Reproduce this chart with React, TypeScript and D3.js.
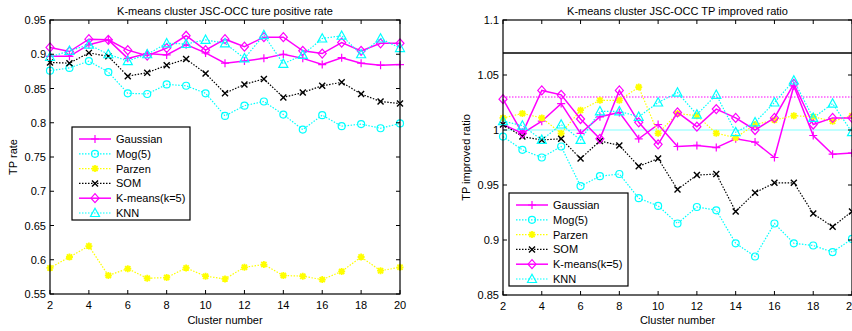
import React from 'react'
import * as d3 from 'd3'

const CLUSTERS = [2, 3, 4, 5, 6, 7, 8, 9, 10, 11, 12, 13, 14, 15, 16, 17, 18, 19, 20]
const X_TICKS = [2, 4, 6, 8, 10, 12, 14, 16, 18, 20]

const TPR_TICKS = [0.55, 0.6, 0.65, 0.7, 0.75, 0.8, 0.85, 0.9, 0.95]
const RATIO_TICKS = [0.85, 0.9, 0.95, 1, 1.05, 1.1]

// TP rate (left)
const GAUSS_L = [0.897, 0.897, 0.914, 0.921, 0.894, 0.901, 0.899, 0.914, 0.902, 0.887, 0.890, 0.894, 0.900, 0.894, 0.885, 0.895, 0.887, 0.884, 0.885]
const MOG_L = [0.876, 0.880, 0.890, 0.874, 0.843, 0.842, 0.856, 0.854, 0.843, 0.810, 0.825, 0.831, 0.812, 0.790, 0.811, 0.795, 0.798, 0.792, 0.799]
const PARZEN_L = [0.588, 0.604, 0.620, 0.577, 0.587, 0.573, 0.574, 0.588, 0.576, 0.572, 0.589, 0.593, 0.577, 0.576, 0.571, 0.583, 0.604, 0.584, 0.589]
const SOM_L = [0.888, 0.887, 0.902, 0.897, 0.868, 0.873, 0.884, 0.893, 0.872, 0.843, 0.856, 0.864, 0.837, 0.844, 0.854, 0.859, 0.842, 0.831, 0.828]
const KMEANS_L = [0.910, 0.904, 0.922, 0.921, 0.906, 0.898, 0.909, 0.927, 0.906, 0.922, 0.911, 0.925, 0.925, 0.905, 0.901, 0.917, 0.905, 0.916, 0.916]
const KNN_L = [0.896, 0.905, 0.914, 0.900, 0.890, 0.900, 0.916, 0.915, 0.921, 0.916, 0.894, 0.928, 0.886, 0.899, 0.923, 0.927, 0.900, 0.923, 0.909]

// TP improved ratio (right)
const GAUSS_R = [1.005, 0.997, 1.008, 1.024, 0.997, 1.012, 1.016, 0.992, 1.005, 0.985, 0.986, 0.984, 0.992, 0.989, 0.975, 1.040, 0.995, 0.978, 0.979]
const MOG_R = [0.994, 0.982, 0.975, 0.985, 0.949, 0.958, 0.960, 0.938, 0.931, 0.915, 0.930, 0.927, 0.897, 0.885, 0.915, 0.897, 0.895, 0.889, 0.901]
const PARZEN_R = [1.011, 1.015, 1.011, 0.997, 1.018, 1.027, 1.027, 1.039, 0.997, 1.015, 1.013, 0.997, 0.993, 1.005, 1.009, 1.013, 1.012, 1.008, 1.013]
const SOM_R = [1.005, 0.994, 0.991, 0.992, 0.974, 0.990, 0.986, 0.967, 0.974, 0.946, 0.959, 0.960, 0.926, 0.943, 0.952, 0.952, 0.924, 0.912, 0.926]
const KMEANS_R = [1.028, 0.997, 1.036, 1.032, 1.010, 0.992, 1.036, 1.007, 0.987, 1.016, 1.003, 1.019, 1.011, 1.000, 1.011, 1.042, 1.005, 1.011, 1.011]
const KNN_R = [1.008, 1.004, 0.991, 1.005, 0.991, 1.017, 1.017, 1.012, 1.025, 1.034, 1.014, 1.032, 0.998, 1.007, 1.025, 1.045, 1.011, 1.024, 0.998]

const REF_LINES = [
  { value: 1.07, color: '#000000', dash: '', width: 1.5 },
  { value: 1.03, color: '#ff00ff', dash: '1.5 1.5', width: 1.2 },
  { value: 1.0, color: '#80ffff', dash: '', width: 1.2 },
]

type Marker = 'plus' | 'circle' | 'star' | 'x' | 'diamond' | 'triangle'
const SERIES: { name: string; color: string; dash: string; marker: Marker }[] = [
  { name: 'Gaussian', color: '#ff00ff', dash: '', marker: 'plus' },
  { name: 'Mog(5)', color: '#00ffff', dash: '1.5 1.5', marker: 'circle' },
  { name: 'Parzen', color: '#ffff00', dash: '1.5 1.5', marker: 'star' },
  { name: 'SOM', color: '#000000', dash: '1.5 1.5', marker: 'x' },
  { name: 'K-means(k=5)', color: '#ff00ff', dash: '', marker: 'diamond' },
  { name: 'KNN', color: '#00ffff', dash: '1.5 1.5', marker: 'triangle' },
]

const FONT = '"Liberation Sans", Arial, sans-serif'

function MarkerShape({ type, x, y, color }: { type: Marker; x: number; y: number; color: string }) {
  const common = { fill: 'none', stroke: color, strokeWidth: 1.2 }
  const t = `translate(${x},${y})`
  switch (type) {
    case 'plus':
      return <path transform={t} d="M-4,0H4M0,-4V4" {...common} />
    case 'circle':
      return <circle cx={x} cy={y} r={3.5} {...common} />
    case 'star':
      return <path transform={t} d="M-3.5,0H3.5M0,-3.5V3.5M-2.6,-2.6L2.6,2.6M-2.6,2.6L2.6,-2.6" {...common} strokeWidth={1.8} />
    case 'x':
      return <path transform={t} d="M-3,-3L3,3M-3,3L3,-3" {...common} strokeWidth={1.4} />
    case 'diamond':
      return <path transform={t} d="M0,-4.5L4,0L0,4.5L-4,0Z" {...common} />
    case 'triangle':
      return <path transform={t} d="M0,-4.8L4.5,3.5L-4.5,3.5Z" {...common} />
  }
}

function Panel(props: {
  left: number; right: number; top: number; bottom: number
  domain: [number, number]; yTicks: number[]; fmt: (v: number) => string
  values: number[][]; title: string; yLabel: string; yLabelX: number
  legend: { x: number; y: number; w: number; h: number }
  refs?: typeof REF_LINES
}) {
  const { left, right, top, bottom, domain, yTicks, fmt, values, title, yLabel, yLabelX, legend, refs } = props
  const x = d3.scaleLinear().domain([2, 20]).range([left, right])
  const y = d3.scaleLinear().domain(domain).range([bottom, top])
  const line = d3.line<number>().x((_, i) => x(CLUSTERS[i])).y(v => y(v))
  const cx = (left + right) / 2
  const tick = 4
  return (
    <g fontFamily={FONT} fontSize={11}>
      <text x={cx} y={15} textAnchor="middle" fill="#000">{title}</text>
      <text transform={`translate(${yLabelX},${(top + bottom) / 2}) rotate(-90)`} textAnchor="middle" fill="#000">{yLabel}</text>
      <text x={cx} y={324} textAnchor="middle" fill="#000">Cluster number</text>

      {refs && refs.map(r => (
        <line key={r.value} x1={left} x2={right} y1={y(r.value)} y2={y(r.value)}
          stroke={r.color} strokeWidth={r.width} strokeDasharray={r.dash} />
      ))}

      {SERIES.map((s, si) => (
        <g key={s.name}>
          <path d={line(values[si]) ?? ''} fill="none" stroke={s.color} strokeWidth={s.dash ? 1.2 : 1.5} strokeDasharray={s.dash} />
          {values[si].map((v, i) => (
            <MarkerShape key={i} type={s.marker} x={x(CLUSTERS[i])} y={y(v)} color={s.color} />
          ))}
        </g>
      ))}

      <rect x={left} y={top} width={right - left} height={bottom - top} fill="none" stroke="#000" strokeWidth={1.2} />
      {X_TICKS.map(t => (
        <g key={t}>
          <line x1={x(t)} x2={x(t)} y1={bottom} y2={bottom - tick} stroke="#000" />
          <line x1={x(t)} x2={x(t)} y1={top} y2={top + tick} stroke="#000" />
          <text x={x(t)} y={bottom + 15} textAnchor="middle" fill="#000">{t}</text>
        </g>
      ))}
      {yTicks.map(t => (
        <g key={t}>
          <line x1={left} x2={left + tick} y1={y(t)} y2={y(t)} stroke="#000" />
          <line x1={right} x2={right - tick} y1={y(t)} y2={y(t)} stroke="#000" />
          <text x={left - 4} y={y(t) + 4} textAnchor="end" fill="#000">{fmt(t)}</text>
        </g>
      ))}

      <rect x={legend.x} y={legend.y} width={legend.w} height={legend.h} fill="#fff" stroke="#000" strokeWidth={1.2} />
      {SERIES.map((s, i) => {
        const ly = legend.y + 12 + i * 14.8
        const lx0 = legend.x + 7
        const lx1 = legend.x + 39
        return (
          <g key={s.name}>
            <line x1={lx0} x2={lx1} y1={ly} y2={ly} stroke={s.color} strokeWidth={s.dash ? 1.2 : 1.5} strokeDasharray={s.dash} />
            <MarkerShape type={s.marker} x={(lx0 + lx1) / 2} y={ly} color={s.color} />
            <text x={lx1 + 5} y={ly + 4} fill="#000">{s.name}</text>
          </g>
        )
      })}
    </g>
  )
}

export default function App() {
  return (
    <svg width={852} height={331} style={{ position: 'absolute', left: 0, top: 0, background: '#fff' }}>
      <rect width={852} height={331} fill="#fff" />
      <Panel
        left={50} right={400} top={20} bottom={294}
        domain={[0.55, 0.95]} yTicks={TPR_TICKS} fmt={v => String(+v.toFixed(2))}
        values={[GAUSS_L, MOG_L, PARZEN_L, SOM_L, KMEANS_L, KNN_L]}
        title="K-means cluster JSC-OCC ture positive rate" yLabel="TP rate" yLabelX={17}
        legend={{ x: 72, y: 127, w: 118, h: 93 }}
      />
      <Panel
        left={503} right={852} top={20} bottom={295}
        domain={[0.85, 1.1]} yTicks={RATIO_TICKS} fmt={v => String(+v.toFixed(2))}
        values={[GAUSS_R, MOG_R, PARZEN_R, SOM_R, KMEANS_R, KNN_R]}
        title="K-means cluster JSC-OCC TP improved ratio" yLabel="TP improved ratio" yLabelX={470}
        legend={{ x: 509, y: 193, w: 119, h: 93 }}
        refs={REF_LINES}
      />
    </svg>
  )
}
